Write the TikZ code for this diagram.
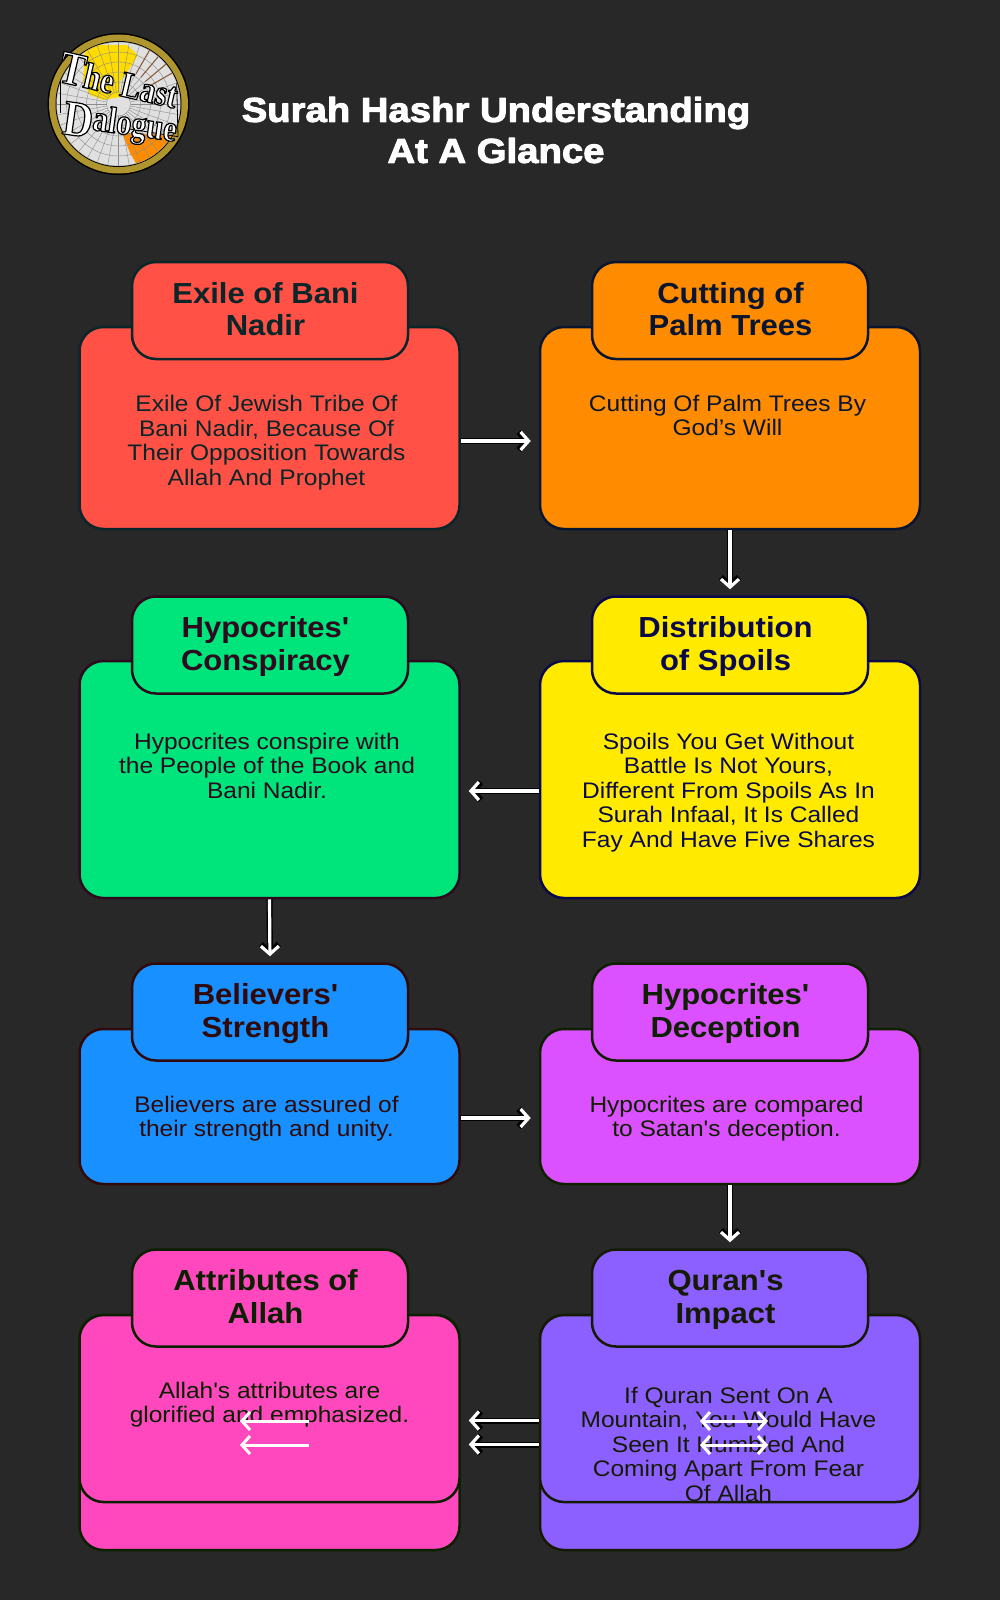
\documentclass[tikz,border=0pt]{standalone}
\usepackage{fontspec}
\setmainfont{Liberation Sans}
\newfontfamily\bodyfont{Liberation Sans}[FakeStretch=1.09]
\newfontfamily\headfont{Liberation Sans}[FakeStretch=1.07]
\newfontfamily\titlefont{Liberation Sans}[FakeStretch=1.11]
\newfontfamily\logofont{Liberation Serif}[FakeStretch=.82]
\usetikzlibrary{arrows.meta}
% letters with a stroke round them: width, then stroke colour
\newcommand{\edged}[2]{\special{pdf:code 2 Tr #1 w 1 j #2 RG}}
\definecolor{pagegrey}{HTML}{282828}
\definecolor{redfill}{HTML}{FF5146}
\definecolor{redink}{HTML}{0A2628}
\definecolor{orangefill}{HTML}{FF8C00}
\definecolor{orangeink}{HTML}{0A1530}
\definecolor{greenfill}{HTML}{00E47C}
\definecolor{greenink}{HTML}{2E0A1E}
\definecolor{yellowfill}{HTML}{FFEA00}
\definecolor{yellowink}{HTML}{0A0A4A}
\definecolor{bluefill}{HTML}{1890FF}
\definecolor{blueink}{HTML}{300A0A}
\definecolor{purplefill}{HTML}{DB50FF}
\definecolor{purpleink}{HTML}{0F2000}
\definecolor{pinkfill}{HTML}{FF47BE}
\definecolor{pinkink}{HTML}{0A2000}
\definecolor{violetfill}{HTML}{8C5FFF}
\definecolor{violetink}{HTML}{151A05}
\definecolor{goldring}{HTML}{B0962E}
\definecolor{landyellow}{HTML}{FFDC00}
\definecolor{landbrown}{HTML}{8A5A3A}
\tikzset{
  cardbody/.style 2 args={draw=#2, fill=#1, line width=2.5pt, rounded corners=24pt, inner sep=0pt, minimum width=380pt},
  cardhead/.style 2 args={draw=#2, fill=#1, line width=2.5pt, rounded corners=24pt, inner sep=0pt, minimum width=276pt, minimum height=97pt},
  headtext/.style={text=#1, font=\headfont\fontsize{29}{32.5}\selectfont\bfseries, align=center, execute at begin node=\strut, execute at end node=\strut},
  bodytext/.style={text=#1, font=\bodyfont\fontsize{22.5}{24.5}\selectfont, align=center, execute at begin node=\strut, execute at end node=\strut},
  barb/.tip={Straight Barb[length=8pt,width=18pt,line width=0pt 1]},
  flow/.style={-barb, white, line width=3.2pt, shorten >=8pt, preaction={draw=black, line width=6pt}},
  stray/.style={white, line width=3pt},
  logotext/.style={text=white, inner sep=0pt, font=\logofont\fontsize{37}{37}\selectfont\bfseries}
}
\begin{document}
\begin{tikzpicture}[x=1pt, y=-1pt]
    \useasboundingbox[fill=pagegrey] (0, 0) rectangle (1000, 1600);

    % logo
    \fill[black] (118.5, 104) circle (71);
    \fill[goldring] (118.5, 104) circle (69.5);
    \fill[black] (118.5, 104) circle (63);
    \fill[white!88!black] (118.5, 104) circle (62);
    \begin{scope}
        \clip (118.5, 104) circle (62);
        \fill[landyellow] (85, 50) -- (97, 45) -- (127, 45) -- (138, 55) -- (130, 68) -- (120, 82) -- (120, 97) -- (103, 100) -- (90, 95) -- (83, 82) -- cycle;
        \fill[orangefill] (122, 133) -- (180, 135) -- (172, 148) -- (157, 158) -- (137, 165) -- (130, 153) -- cycle;
        \foreach \a in {0, 10, ..., 350} {
            \draw[black!45, line width=.4pt] (118.5, 104) ++(\a:12) -- ++(\a:60);
        }
        \foreach \r in {12, 22, ..., 62} {
            \draw[black!45, line width=.4pt] (118.5, 104) circle (\r);
        }
        \foreach \a in {-60, -50, -40, -30} {
            \draw[landbrown, line width=1pt] (118.5, 104) ++(\a:35) -- ++(\a:27);
        }
    \end{scope}
    \draw[black, line width=.8pt] (60.7, 80) -- (60.7, 113);
    \draw[black, line width=.8pt] (123, 128) -- (178, 136.7) -- (176.7, 83);
    \node[logotext, rotate=-13] (logoTop) at (119, 80) {\edged{1.2}{0 0 0}{\fontsize{47}{47}\selectfont T}he Last};
    \node[logotext, rotate=-8] (logoBottom) at (120, 125) {\edged{1.2}{0 0 0}\raisebox{-8pt}{\fontsize{50}{50}\selectfont D}alogue};

    % title
    \node[text=white, font=\titlefont\fontsize{34.5}{41}\selectfont\bfseries, align=center] (title) at (496, 130)
        {\edged{1}{1 1 1}Surah Hashr Understanding\\\edged{1}{1 1 1}At A Glance};

    % first row
    \node[cardbody={redfill}{redink}, minimum height=202pt] (exile) at (269.5, 428) {};
    \node[cardhead={redfill}{redink}] (exileHead) at (270, 310.5) {};
    \node[headtext=redink] (exileTitle) at (265.5, 314) {Exile of Bani\\Nadir};
    \node[bodytext=redink] (exileText) at (266.5, 444) {Exile Of Jewish Tribe Of\\Bani Nadir, Because Of\\Their Opposition Towards\\Allah And Prophet};

    \node[cardbody={orangefill}{orangeink}, minimum height=202pt] (palm) at (730, 428) {};
    \node[cardhead={orangefill}{orangeink}] (palmHead) at (730, 310.5) {};
    \node[headtext=orangeink] (palmTitle) at (730.5, 314) {Cutting of\\Palm Trees};
    \node[bodytext=orangeink] (palmText) at (727.5, 419) {Cutting Of Palm Trees By\\God’s Will};

    % second row
    \node[cardbody={greenfill}{greenink}, minimum height=237pt] (conspiracy) at (269.5, 779.5) {};
    \node[cardhead={greenfill}{greenink}] (conspiracyHead) at (270, 645) {};
    \node[headtext=greenink] (conspiracyTitle) at (265.5, 648.5) {Hypocrites'\\Conspiracy};
    \node[bodytext=greenink] (conspiracyText) at (267, 769.5) {Hypocrites conspire with\\the People of the Book and\\Bani Nadir.};

    \node[cardbody={yellowfill}{yellowink}, minimum height=237pt] (spoils) at (730, 779.5) {};
    \node[cardhead={yellowfill}{yellowink}] (spoilsHead) at (730, 645) {};
    \node[headtext=yellowink] (spoilsTitle) at (725.5, 648.5) {Distribution\\of Spoils};
    \node[bodytext=yellowink] (spoilsText) at (728.5, 794) {Spoils You Get Without\\Battle Is Not Yours,\\Different From Spoils As In\\Surah Infaal, It Is Called\\Fay And Have Five Shares};

    % third row
    \node[cardbody={bluefill}{blueink}, minimum height=155pt] (strength) at (269.5, 1106.5) {};
    \node[cardhead={bluefill}{blueink}] (strengthHead) at (270, 1012) {};
    \node[headtext=blueink] (strengthTitle) at (265.5, 1015.5) {Believers'\\Strength};
    \node[bodytext=blueink] (strengthText) at (266.5, 1120) {Believers are assured of\\their strength and unity.};

    \node[cardbody={purplefill}{purpleink}, minimum height=155pt] (deception) at (730, 1106.5) {};
    \node[cardhead={purplefill}{purpleink}] (deceptionHead) at (730, 1012) {};
    \node[headtext=purpleink] (deceptionTitle) at (725.5, 1015.5) {Hypocrites'\\Deception};
    \node[bodytext=purpleink] (deceptionText) at (726.5, 1120) {Hypocrites are compared\\to Satan's deception.};

    % last row, the body is drawn twice
    \node[cardbody={pinkfill}{pinkink}, minimum height=235pt] (attributesBack) at (269.5, 1432.5) {};
    \node[cardbody={pinkfill}{pinkink}, minimum height=187pt] (attributes) at (269.5, 1408.5) {};
    \node[cardhead={pinkfill}{pinkink}] (attributesHead) at (270, 1298) {};
    \node[headtext=pinkink] (attributesTitle) at (265.5, 1301.5) {Attributes of\\Allah};
    \node[bodytext=pinkink] (attributesText) at (269.5, 1406) {Allah's attributes are\\glorified and emphasized.};

    \node[cardbody={violetfill}{violetink}, minimum height=235pt] (impactBack) at (730, 1432.5) {};
    \node[cardbody={violetfill}{violetink}, minimum height=187pt] (impact) at (730, 1408.5) {};
    \node[cardhead={violetfill}{violetink}] (impactHead) at (730, 1298) {};
    \node[headtext=violetink] (impactTitle) at (725.5, 1301.5) {Quran's\\Impact};
    \node[bodytext=violetink] (impactText) at (728.5, 1448) {If Quran Sent On A\\Mountain, You Would Have\\Seen It Humbled And\\Coming Apart From Fear\\Of Allah};

    % connectors
    \draw[flow] ([yshift=-13pt]exile.east) -- ([yshift=-13pt]palm.west);
    \draw[flow, shorten >=6pt] (palm.south) -- (spoilsHead.north);
    \draw[flow] ([yshift=-11.5pt]spoils.west) -- ([yshift=-11.5pt]conspiracy.east);
    \draw[flow, shorten >=6pt] (conspiracy.south) -- (strengthHead.north);
    \draw[flow] ([yshift=-11.5pt]strength.east) -- ([yshift=-11.5pt]deception.west);
    \draw[flow, shorten >=6pt] (deception.south) -- (impactHead.north);
    \draw[flow] ([yshift=12pt]impactBack.west) -- ([yshift=12pt]attributesBack.east);
    \draw[flow] ([yshift=-12pt]impactBack.west) -- ([yshift=-12pt]attributesBack.east);

    % arrows left on top of the last row
    \coordinate (pinkTopEnd) at (309, 1421);
    \coordinate (pinkTopTip) at (240, 1421);
    \coordinate (pinkLowEnd) at (309, 1445);
    \coordinate (pinkLowTip) at (240, 1445);
    \coordinate (violetTopLeft) at (700, 1421);
    \coordinate (violetTopRight) at (768, 1421);
    \coordinate (violetLowLeft) at (700, 1445);
    \coordinate (violetLowRight) at (768, 1445);
    \draw[stray, -barb] (pinkTopEnd) -- (pinkTopTip);
    \draw[stray, -barb] (pinkLowEnd) -- (pinkLowTip);
    \draw[stray, barb-barb] (violetTopLeft) -- (violetTopRight);
    \draw[stray, barb-barb] (violetLowLeft) -- (violetLowRight);
\end{tikzpicture}
\end{document}
